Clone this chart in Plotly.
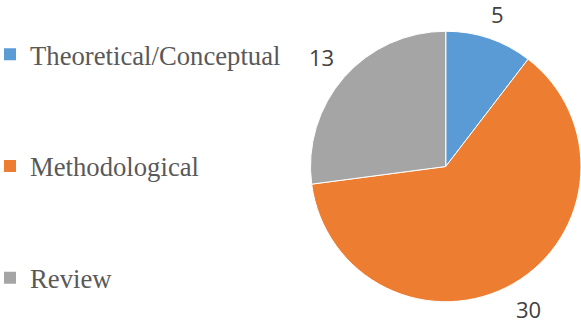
import math
import plotly.graph_objects as go

categories = ["Theoretical/Conceptual", "Methodological", "Review"]
values = [5, 30, 13]
colors = ["#5B9BD5", "#ED7D31", "#A5A5A5"]

W, H = 581, 324
cx, cy, R = 446.0, 166.5, 135.5  # pixel center (from top) and radius

fig = go.Figure()
fig.add_trace(go.Pie(
    labels=categories, values=values, sort=False, direction="clockwise", rotation=0,
    marker=dict(colors=colors, line=dict(color="white", width=1)),
    textinfo="none", hoverinfo="label+value", showlegend=False,
    domain=dict(x=[(cx - R) / W, min(1, (cx + R) / W)], y=[(H - cy - R) / H, (H - cy + R) / H]),
))

# legend entries
for i, (c, col) in enumerate(zip(categories, colors)):
    fig.add_trace(go.Scatter(
        x=[None], y=[None], mode="markers", name=c, legendgroup=f"g{i}",
        marker=dict(symbol="square", size=12, color=col), showlegend=True,
    ))

# value labels positioned just outside the slice mid-angles
total = sum(values)
cum = 0
fs = 22
for v in values:
    mid = (cum + v / 2) / total * 2 * math.pi
    cum += v
    s, c = math.sin(mid), math.cos(mid)
    hw, hh = 0.3 * fs * len(str(v)), 0.5 * fs
    r = R + 13 + abs(s) * hw + abs(c) * hh
    px = cx + r * s
    py = cy - r * c
    fig.add_annotation(x=px / W, y=1 - py / H, xref="paper", yref="paper",
                       text=str(v), showarrow=False, xanchor="center", yanchor="middle",
                       font=dict(family="Open Sans", size=fs, color="#404040"))

fig.update_layout(
    width=W, height=H, margin=dict(l=0, r=0, t=0, b=0, autoexpand=False),
    paper_bgcolor="white", plot_bgcolor="white",
    xaxis=dict(visible=False), yaxis=dict(visible=False),
    legend=dict(x=-10 / W, y=1 - 30.5 / H, xanchor="left", yanchor="top",
                font=dict(family="Liberation Serif", size=26.7, color="#595959"),
                tracegroupgap=74, bgcolor="rgba(0,0,0,0)"),
)
fig.write_html("out.html")
